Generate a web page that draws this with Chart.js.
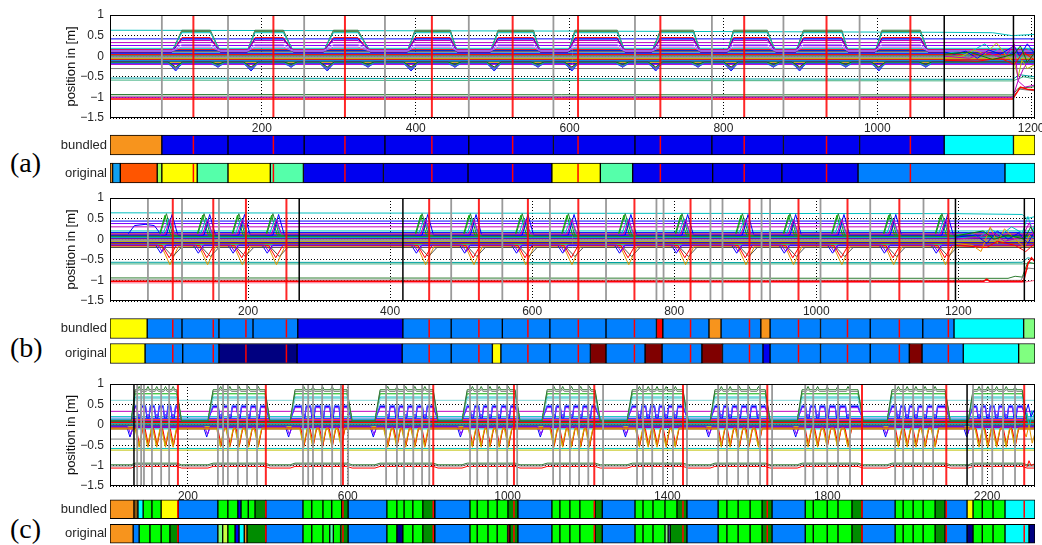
<!DOCTYPE html>
<html>
<head>
<meta charset="utf-8">
<script src="https://cdn.jsdelivr.net/npm/chart.js@4.4.1/dist/chart.umd.min.js"></script>
<style>
  html, body { margin: 0; padding: 0; background: #fff; }
  #fig { position: relative; width: 1042px; height: 545px; overflow: hidden; }
  #fig canvas { position: absolute; left: 0; }
  .tag { position: absolute; left: 10px; font: 28px/28px "Liberation Serif", "Times New Roman", serif; color: #000; }
</style>
</head>
<body>
<div id="fig">
  <div class="tag" style="top:149px">(a)</div>
  <div class="tag" style="top:334px">(b)</div>
  <div class="tag" style="top:515px">(c)</div>
</div>
<script>
// ---- shared ----
const yTicks = [1, 0.5, 0, -0.5, -1, -1.5];
const yTickLabels = ['1', '0.5', '0', '\u22120.5', '\u22121', '\u22121.5'];
const rows = ['bundled', 'original'];

// line colours
const B = '#0000ff', G = '#008000', R = '#ff0000', C = '#00bfbf', M = '#bf00bf', Y = '#bfbf00',
      GR = '#7a7a7a', DG = '#2e7d32', OR = '#e69500', PU = '#8000ff', LG = '#00b000';
// strip colours
const sBlue = '#0000f0', sDodger = '#0080ff', sCyan = '#00ffff', sYellow = '#ffff00', sOrange = '#f7941d',
      sOrangeRed = '#ff5500', sLime = '#a0ff50', sAqua = '#55ffaa', sSky = '#10a0f0', sNavy = '#000080',
      sMaroon = '#800000', sRed = '#ff0000', sGreen = '#00ff00', sDark = '#008c00', sBrown = '#8b5a14',
      sMint = '#80ff80', sPale = '#c8ff40';

// ---- (a) ----
const aRange = [2.6, 1205];
const aXTicks = [200, 400, 600, 800, 1000, 1200];
const aRed = [111, 215, 308, 421, 526, 611, 718, 827, 934, 1043];
const aGray = [70, 156, 255, 360, 469, 579, 685, 785, 878, 977];
const aBlack = [1087, 1177];
const aBundledEdges = [2.6, 70, 156, 255, 360, 469, 579, 685, 785, 878, 977, 1087, 1177, 1205];
const aBundledColors = [sOrange, sBlue, sBlue, sBlue, sBlue, sBlue, sBlue, sBlue, sBlue, sBlue, sBlue, sCyan, sYellow];
const aOriginalEdges = [2.6, 6, 16, 64, 70, 116, 156, 211, 254, 358, 468, 577, 640, 682, 786, 876, 975, 1166, 1205];
const aOriginalColors = [sOrange, sSky, sOrangeRed, sLime, sYellow, sAqua, sYellow, sAqua, sBlue, sBlue, sBlue,
                         sYellow, sAqua, sBlue, sBlue, sBlue, sDodger, sCyan];
const aBumps = [[83, 96, 133, 146], [181, 191, 228, 241], [280, 293, 325, 341], [389, 399, 445, 454],
                [497, 507, 553, 562], [598, 607, 662, 672], [707, 718, 761, 770], [805, 813, 857, 868],
                [894, 904, 954, 962], [997, 1006, 1056, 1066]];
const aRiseDips = [88, 186, 285, 394, 502, 603, 712, 810, 899, 1002];
const aFallDips = [143, 238, 338, 451, 559, 669, 767, 865, 959, 1063];
const aFlat = [[0.42, B], [0.33, M], [0.26, PU], [0.19, C], [0.16, R], [0.14, B], [0.12, G], [0.1, M], [0.08, C],
               [0.06, B], [0.04, R], [0.02, GR], [0, G], [-0.02, B], [-0.04, '#9a9a9a', 3], [-0.06, Y], [-0.08, R],
               [-0.1, C], [-0.12, B], [-0.14, G], [-0.16, OR], [-0.18, B], [-0.2, M], [-0.3, GR]];
const aBumpLines = [[0.1, 0.63, DG], [0.1, 0.6, LG], [0.1, 0.61, GR], [0.12, 0.57, C], [0.1, 0.45, R],
                    [0.1, 0.42, B], [0.15, 0.38, M], [0.13, 0.28, '#b080ff'], [0.12, 0.22, '#c060e0']];
// [base, deep (rise), shallow (fall), colour]
const aDipLines = [[-0.15, -0.36, -0.27, B], [-0.15, -0.32, -0.25, OR], [-0.15, -0.3, -0.23, R],
                   [-0.13, -0.28, -0.22, PU], [-0.16, -0.31, -0.24, C], [-0.14, -0.26, -0.2, G],
                   [-0.18, -0.33, -0.26, '#4040ff']];
const aOther = [
  [C, [[2.6, 0.63], [600, 0.61], [1087, 0.58], [1150, 0.57], [1175, 0.5], [1205, 0.53]]],
  ['#00a0a0', [[2.6, -0.53], [1087, -0.56], [1176, -0.56], [1185, -0.45], [1205, -0.5]]],
  ['#40b080', [[2.6, -0.58], [1176, -0.6], [1190, -0.5], [1205, -0.55]]],
  [DG, [[2.6, -0.93], [1176, -0.94], [1183, -0.78], [1205, -0.74]]],
  [GR, [[2.6, -0.97], [1176, -0.98], [1185, -0.8], [1205, -0.84]]],
  [M, [[2.6, -1.0], [1176, -1.0], [1183, -0.6], [1192, -0.75], [1205, -0.7]]],
  [R, [[2.6, -1.04], [1176, -1.04], [1186, -0.75], [1195, -0.8], [1205, -0.82]], 1.5]
];
const aTail = [
  [C, [[1087, 0.08], [1105, 0.1], [1118, 0.02], [1130, 0.2], [1140, 0.3], [1150, 0.1], [1160, 0.2], [1170, 0.05], [1178, 0.15], [1185, -0.1], [1192, 0.2], [1205, 0.1]]],
  [Y, [[1087, -0.05], [1110, 0], [1125, 0.15], [1140, 0.05], [1155, 0.32], [1168, 0], [1178, -0.15], [1183, -0.5], [1188, -0.1], [1195, -0.3], [1205, -0.2]]],
  [B, [[1087, 0.1], [1100, 0.05], [1115, 0.12], [1130, -0.05], [1145, 0.15], [1160, 0.05], [1178, 0.25], [1185, 0], [1195, 0.3], [1205, 0.05]]],
  [M, [[1087, 0], [1120, -0.05], [1140, 0.1], [1165, -0.05], [1178, 0.3], [1183, -0.6], [1190, -0.3], [1205, 0.1]]],
  [R, [[1087, -0.1], [1130, -0.12], [1160, -0.05], [1178, -0.2], [1190, 0.1], [1205, -0.1]]],
  [G, [[1087, 0.05], [1120, 0.1], [1150, -0.08], [1178, 0.05], [1186, 0.25], [1195, -0.15], [1205, 0.1]]]
];

// ---- (b) ----
const bRange = [5.6, 1308];
const bXTicks = [200, 400, 600, 800, 1000, 1200];
const bRed = [94, 151, 197, 254, 455, 525, 594, 665, 744, 823, 906, 975, 1044, 1117, 1186];
const bGray = [59, 107, 159, 486, 558, 625, 704, 775, 785, 851, 868, 923, 935, 1006, 1076, 1151];
const bBlack = [272, 418, 1196, 1293];
const bBundledEdges = [5.6, 58, 107, 159, 207, 270, 418, 486, 558, 625, 704, 775, 784, 849, 866, 922, 935,
                       1006, 1076, 1150, 1194, 1292, 1308];
const bBundledColors = [sYellow, sDodger, sDodger, sDodger, sDodger, sBlue, sDodger, sDodger, sDodger, sDodger,
                        sDodger, sRed, sDodger, sOrange, sDodger, sOrange, sDodger, sDodger, sDodger, sDodger,
                        sCyan, sMint];
const bOriginalEdges = [5.6, 55, 108, 159, 269, 417, 486, 544, 556, 625, 682, 704, 759, 783, 839, 868, 925, 935,
                        1006, 1076, 1131, 1149, 1207, 1285, 1308];
const bOriginalColors = [sYellow, sDodger, sDodger, sNavy, sBlue, sDodger, sDodger, sYellow, sDodger, sDodger,
                         sMaroon, sDodger, sMaroon, sDodger, sMaroon, sDodger, sBlue, sDodger, sDodger, sDodger,
                         sMaroon, sDodger, sCyan, sMint];
const bSpikes = [85, 138, 187, 235, 445, 513, 586, 651, 731, 811, 896, 963, 1031, 1104, 1177];
// [base, extreme, offset, half width, colour]
const bSpikeLines = [[0.1, 0.62, 0, 9, DG], [0.1, 0.58, -2, 8, LG], [0.12, 0.5, 3, 8, C], [0.1, 0.6, 8, 8, B],
                     [0.12, 0.48, 5, 7, M]];
const bVeeLines = [[-0.17, -0.62, 5, 12, OR], [-0.15, -0.34, -8, 7, B], [-0.2, -0.42, 9, 12, '#505050'],
                   [-0.15, -0.45, 4, 10, R], [-0.14, -0.3, -6, 6, PU]];
const bFlat = [[0.44, B], [0.38, PU], [0.3, M], [0.2, C], [0.16, B], [0.13, R], [0.1, B], [0.08, M], [0.06, G],
               [0.04, C], [0.02, B], [0, R], [-0.02, GR], [-0.04, '#9a9a9a', 3], [-0.06, Y], [-0.08, B],
               [-0.1, R], [-0.12, G], [-0.14, C], [-0.16, M], [-0.2, '#505050']];
const bOther = [
  [C, [[5.6, 0.64], [1196, 0.62], [1290, 0.6], [1297, 0.5], [1308, 0.55]]],
  [B, [[5.6, 0.1], [30, 0.1], [40, 0.33], [55, 0.36], [68, 0.33], [78, 0.1], [1308, 0.1]]],
  ['#00a0a0', [[5.6, -0.56], [1196, -0.57], [1290, -0.56], [1298, -0.45], [1308, -0.5]]],
  ['#40b080', [[5.6, -0.6], [1290, -0.6], [1308, -0.58]]],
  [DG, [[5.6, -0.94], [1270, -0.95], [1280, -0.9], [1290, -0.92], [1298, -0.55], [1308, -0.6]]],
  [GR, [[5.6, -0.99], [1288, -1.0], [1298, -0.7], [1308, -0.72]]],
  ['#ff6080', [[5.6, -1.06], [1290, -1.05], [1308, -1.0]]],
  [R, [[5.6, -1.02], [1236, -1.02], [1240, -0.97], [1244, -1.02], [1292, -1.02], [1298, -0.6], [1303, -0.45], [1308, -0.55]], 1.5]
];
const bTail = [
  [C, [[1196, 0.1], [1215, 0.15], [1230, 0.05], [1245, 0.25], [1260, 0.1], [1275, 0.3], [1290, 0.15], [1298, 0.55], [1305, 0.2], [1308, 0.4]]],
  [OR, [[1196, -0.1], [1220, -0.15], [1232, -0.3], [1245, 0.3], [1255, -0.1], [1265, 0.25], [1280, 0], [1293, -0.2], [1300, 0.1], [1308, -0.1]]],
  [B, [[1196, 0.05], [1225, 0.1], [1240, -0.1], [1255, 0.2], [1270, 0], [1285, 0.15], [1298, -0.1], [1308, 0.2]]],
  [M, [[1196, 0], [1230, 0.05], [1250, 0.15], [1265, -0.05], [1290, 0.05], [1300, 0.4], [1308, 0]]],
  [R, [[1196, -0.15], [1240, -0.2], [1255, -0.05], [1280, -0.15], [1295, -0.3], [1308, -0.1]]],
  [G, [[1196, 0.08], [1235, 0.2], [1250, 0], [1270, 0.1], [1293, 0], [1302, 0.3], [1308, 0.1]]]
];

// ---- (c) ----
const cRange = [5, 2320];
const cXTicks = [200, 600, 1000, 1400, 1800, 2200];
const cRed = [175, 395, 588, 814, 1016, 1217, 1439, 1650, 1887, 2098, 2293];
const cGray = [73, 83, 90, 110, 133, 153, 275, 288, 300, 325, 348, 373, 488, 501, 513, 536, 561, 583, 601, 696,
               723, 741, 764, 786, 804, 906, 924, 951, 974, 999, 1024, 1114, 1131, 1156, 1179, 1202, 1239, 1324,
               1339, 1362, 1389, 1414, 1449, 1527, 1549, 1577, 1602, 1632, 1662, 1745, 1765, 1800, 1827, 1857,
               1970, 1990, 2015, 2040, 2065, 2165, 2188, 2213, 2240, 2270];
const cBlack = [65, 2150];
const cBundledEdges = [5, 65, 75, 88, 110, 133, 176, 275, 300, 325, 333, 351, 368, 395, 488, 510, 538, 560, 585,
                       601, 698, 723, 741, 763, 788, 818, 906, 924, 951, 974, 1001, 1026, 1111, 1131, 1156, 1181,
                       1219, 1237, 1319, 1339, 1364, 1394, 1424, 1449, 1527, 1549, 1577, 1607, 1637, 1662, 1745,
                       1765, 1800, 1827, 1862, 1887, 1970, 1990, 2015, 2040, 2070, 2095, 2150, 2165, 2188, 2215,
                       2245, 2320];
const cBundledColors = [sOrange, sBrown, sCyan, sGreen, sGreen, sYellow, sDodger,
                        sGreen, sGreen, sBlue, sGreen, sGreen, sDark, sDodger,
                        sGreen, sGreen, sGreen, sGreen, sDark, sDodger,
                        sGreen, sGreen, sGreen, sGreen, sDark, sDodger,
                        sGreen, sGreen, sGreen, sGreen, sDark, sDodger,
                        sGreen, sGreen, sGreen, sGreen, sDark, sDodger,
                        sGreen, sGreen, sGreen, sGreen, sDark, sDodger,
                        sGreen, sGreen, sGreen, sGreen, sDark, sDodger,
                        sGreen, sGreen, sGreen, sGreen, sDark, sDodger,
                        sGreen, sGreen, sGreen, sGreen, sDark, sDodger,
                        sYellow, sGreen, sGreen, sGreen, sCyan];
const cOriginalEdges = [5, 63, 78, 105, 133, 155, 176, 275, 287, 300, 318, 328, 341, 348, 395, 488, 510, 538, 555,
                        564, 582, 601, 698, 723, 738, 763, 788, 818, 906, 924, 951, 974, 1000, 1006, 1026, 1111,
                        1131, 1156, 1181, 1219, 1237, 1319, 1339, 1364, 1394, 1402, 1407, 1449, 1527, 1549, 1577,
                        1607, 1637, 1662, 1745, 1765, 1800, 1827, 1862, 1887, 1970, 1990, 2015, 2040, 2070, 2095,
                        2150, 2165, 2188, 2215, 2245, 2305, 2320];
const cOriginalColors = [sOrange, sDodger, sGreen, sGreen, sGreen, sDark, sDodger,
                         sMint, sPale, sGreen, sBlue, sCyan, sOrange, sDark, sDodger,
                         sGreen, sGreen, sGreen, sAqua, sGreen, sDark, sDodger,
                         sGreen, sNavy, sGreen, sGreen, sDark, sDodger,
                         sGreen, sGreen, sGreen, sGreen, sMaroon, sDark, sDodger,
                         sGreen, sGreen, sGreen, sGreen, sDark, sDodger,
                         sGreen, sGreen, sGreen, sMint, sNavy, sDark, sDodger,
                         sGreen, sGreen, sGreen, sGreen, sDark, sDodger,
                         sGreen, sGreen, sGreen, sGreen, sDark, sDodger,
                         sGreen, sGreen, sGreen, sGreen, sDark, sDodger,
                         sNavy, sGreen, sGreen, sGreen, sCyan, sNavy];
const cCycles = [[58, 68, 172, 184], [250, 263, 393, 405], [456, 468, 598, 611], [668, 681, 814, 826],
                 [886, 899, 1019, 1031], [1086, 1099, 1219, 1232], [1299, 1312, 1439, 1452],
                 [1507, 1519, 1645, 1657], [1725, 1737, 1877, 1890], [1950, 1962, 2095, 2108],
                 [2153, 2165, 2288, 2300]];
const cOsc = [[78, 100, 122, 144, 163], [282, 305, 328, 352, 376], [490, 513, 537, 561, 584],
              [700, 723, 745, 768, 793], [912, 934, 956, 979, 1002], [1116, 1138, 1160, 1183, 1205],
              [1330, 1352, 1374, 1397, 1420], [1535, 1557, 1580, 1604, 1628], [1752, 1776, 1800, 1826, 1852],
              [1978, 2000, 2022, 2045, 2070], [2180, 2202, 2224, 2248, 2270]];
const cRiseDips = [55, 247, 452, 664, 882, 1082, 1295, 1503, 1721, 1946, 2149];
const cFlat = [[0.6, '#7fd4d4'], [0.33, M], [0.2, C], [0.16, B], [0.12, R, 1.5], [0.1, M], [0.08, G], [0.06, B],
               [0.05, R, 2], [0.03, C], [0.01, GR], [-0.01, G], [-0.03, B], [-0.05, Y], [-0.07, R], [-0.1, C],
               [-0.35, GR], [-0.58, C], [-0.62, Y]];
// [base, top, colour, jag]
const cPlateauLines = [[0.1, 0.76, LG, 0], [0.12, 0.68, C, 0], [0.15, 0.64, '#7fd4d4', 0],
                       [0.1, 0.82, GR, 0.05], [0.1, 0.86, DG, 0.08]];
const cLowLines = [[-0.98, -0.94, DG, 0], [-1.01, -0.97, GR, 0], [-1.06, -1.02, R, 0]];
// [base, top, low, colour]
const cSquareLines = [[0.1, 0.45, 0.17, B], [0.12, 0.42, 0.22, PU], [0.14, 0.48, 0.25, '#4060ff']];
const cVeeLines = [[-0.08, -0.55, 0, 9, OR], [-0.1, -0.5, 1, 8, R], [-0.1, -0.52, -1, 9, '#c8b400']];
const cDipLines = [[-0.05, -0.3, 0, 8, B], [-0.05, -0.24, 2, 7, PU]];
const cTail = [
  [C, [[2290, 0.1], [2300, 0.3], [2306, -0.1], [2312, 0.35], [2320, 0.1]]],
  [OR, [[2290, -0.1], [2298, -0.3], [2305, 0], [2313, -0.45], [2320, -0.2]]],
  [B, [[2290, 0.1], [2303, 0.5], [2310, 0.2], [2320, 0.4]]],
  [R, [[2300, -1.03], [2305, -0.88], [2310, -1.0], [2320, -0.95]]]
];

// ---- helpers ----
const W = 1060;          // canvases run past the page edge so the last tick label is not squeezed
const PLOT_R = 1035;
const FONT = 'Liberation Sans, Arial, sans-serif';
const INK = '#262626';

const pt = (x, y) => ({ x, y });
const byX = p => p.sort((a, b) => a.x - b.x);
const trace = (data, color, width) => ({
  data, borderColor: color, borderWidth: width || 1, pointRadius: 0, fill: false, tension: 0
});

function flatSet(range, list) {
  return list.map(([v, c, w]) => trace([pt(range[0], v), pt(range[1], v)], c, w));
}
function pathSet(list) {
  return list.map(([c, pts, w]) => trace(pts.map(([x, y]) => pt(x, y)), c, w));
}
function plateauSet(range, cycles, list, osc) {
  return list.map(([base, top, c, jag]) => {
    const p = [pt(range[0], base), pt(range[1], base)];
    cycles.forEach(([r0, r1, f0, f1], i) => {
      p.push(pt(r0, base), pt(r1, top), pt(f0, top), pt(f1, base));
      if (jag && osc) osc[i].forEach(x => p.push(pt(x - 4, top), pt(x, top + jag), pt(x + 4, top)));
    });
    return trace(byX(p), c);
  });
}
function notchSet(range, centers, list) {
  return list.map(([base, ext, off, hw, c]) => {
    const p = [pt(range[0], base), pt(range[1], base)];
    centers.forEach(x => p.push(pt(x + off - hw, base), pt(x + off, ext), pt(x + off + hw, base)));
    return trace(byX(p), c);
  });
}
function dipSet(range, deepAt, shallowAt, list) {
  return list.map(([base, deep, shallow, c]) => {
    const p = [pt(range[0], base), pt(range[1], base)];
    deepAt.forEach(x => p.push(pt(x - 10, base), pt(x, deep), pt(x + 9, base)));
    shallowAt.forEach(x => p.push(pt(x - 9, base), pt(x, shallow), pt(x + 8, base)));
    return trace(byX(p), c);
  });
}
function squareSet(range, cycles, osc, list) {
  return list.map(([base, top, low, c]) => {
    const p = [pt(range[0], base), pt(range[1], base)];
    cycles.forEach(([r0, r1, f0, f1], i) => {
      p.push(pt(r0, base), pt(r1, top), pt(f0, top), pt(f1, base));
      osc[i].forEach(x => p.push(pt(x - 6, top), pt(x - 3, low), pt(x + 3, low), pt(x + 6, top)));
    });
    return trace(byX(p), c);
  });
}

function addCanvas(top, height) {
  const cv = document.createElement('canvas');
  cv.width = W; cv.height = height;
  cv.style.top = top + 'px';
  cv.style.width = W + 'px';
  cv.style.height = height + 'px';
  document.getElementById('fig').appendChild(cv);
  return cv;
}

// vertical event lines over the traces, then the axes box
function eventLines(sets) {
  return {
    id: 'eventLines',
    afterDatasetsDraw(chart) {
      const { ctx, chartArea: a, scales: { x } } = chart;
      ctx.save();
      ctx.beginPath(); ctx.rect(a.left, a.top, a.width, a.height); ctx.clip();
      sets.forEach(([list, color, width]) => {
        ctx.strokeStyle = color; ctx.lineWidth = width;
        list.forEach(v => {
          const px = x.getPixelForValue(v);
          ctx.beginPath(); ctx.moveTo(px, a.top); ctx.lineTo(px, a.bottom); ctx.stroke();
        });
      });
      ctx.restore();
      ctx.save();
      ctx.strokeStyle = '#000'; ctx.lineWidth = 1;
      ctx.strokeRect(Math.round(a.left) + 0.5, Math.round(a.top) + 0.5, Math.round(a.width) - 1, Math.round(a.height) - 1);
      ctx.restore();
    }
  };
}

function stripMarks(red) {
  return {
    id: 'stripMarks',
    afterDatasetsDraw(chart) {
      const { ctx, scales: { x } } = chart;
      ctx.save();
      ctx.strokeStyle = '#ff0000'; ctx.lineWidth = 1.5;
      chart.data.datasets.forEach((d, i) => {
        const el = chart.getDatasetMeta(i).data[0];
        const y0 = el.y - el.height / 2 + 1, y1 = el.y + el.height / 2 - 1;
        red.forEach(v => {
          const px = x.getPixelForValue(v);
          ctx.beginPath(); ctx.moveTo(px, y0); ctx.lineTo(px, y1); ctx.stroke();
        });
      });
      ctx.restore();
    }
  };
}

function drawTraces(plotTop, plotH, axisH, range, xTicks, datasets, sets) {
  const pad = 16;
  const cv = addCanvas(plotTop - pad, pad + plotH + axisH);
  const font = { family: FONT, size: 12 };
  new Chart(cv, {
    type: 'line',
    data: { datasets },
    options: {
      responsive: false, animation: false, devicePixelRatio: 1, events: [],
      layout: { padding: { left: 0, right: W - PLOT_R, top: pad, bottom: 0 } },
      plugins: { legend: { display: false }, tooltip: { enabled: false } },
      scales: {
        x: {
          type: 'linear', min: range[0], max: range[1],
          afterBuildTicks: s => { s.ticks = xTicks.map(v => ({ value: v })); },
          afterFit: s => { s.height = axisH; },
          ticks: { callback: v => String(v), font, color: INK, padding: 3, maxRotation: 0, autoSkip: false },
          grid: { color: '#000', lineWidth: 1, drawTicks: false },
          border: { display: false, dash: [1, 2] }
        },
        y: {
          type: 'linear', min: -1.5, max: 1,
          afterBuildTicks: s => { s.ticks = yTicks.map(v => ({ value: v })); },
          afterFit: s => { s.width = 110; },
          title: { display: true, text: 'position in [m]', font: { family: FONT, size: 13 }, color: '#111',
                   padding: { top: 64, bottom: 0 } },
          ticks: { callback: v => yTickLabels[yTicks.indexOf(v)], font, color: INK, padding: 6, autoSkip: false },
          grid: { color: '#000', lineWidth: 1, drawTicks: false },
          border: { display: false, dash: [1, 2] }
        }
      }
    },
    plugins: [eventLines(sets)]
  });
}

function drawStrips(areaTop, areaH, thick, range, be, bc, oe, oc, red) {
  const pad = 16;
  const cv = addCanvas(areaTop - pad, areaH + 2 * pad);
  const seg = (edges, row) => edges.slice(0, -1).map((e, i) => ({ x: [e, edges[i + 1]], y: row }));
  const bar = (edges, colors, row) => ({
    data: seg(edges, row), backgroundColor: colors, borderColor: '#000', borderWidth: 1,
    borderSkipped: false, barThickness: thick, grouped: false
  });
  new Chart(cv, {
    type: 'bar',
    data: { datasets: [bar(be, bc, rows[0]), bar(oe, oc, rows[1])] },
    options: {
      indexAxis: 'y', responsive: false, animation: false, devicePixelRatio: 1, events: [],
      layout: { padding: { left: 0, right: W - PLOT_R, top: pad, bottom: pad } },
      plugins: { legend: { display: false }, tooltip: { enabled: false } },
      scales: {
        x: { type: 'linear', min: range[0], max: range[1], display: false },
        y: {
          type: 'category', labels: rows,
          afterFit: s => { s.width = 110; },
          grid: { display: false, drawTicks: false },
          border: { display: false },
          ticks: { font: { family: FONT, size: 13 }, color: INK, padding: 3 }
        }
      }
    },
    plugins: [stripMarks(red)]
  });
}

const grayCol = '#9a9a9a', redCol = 'rgba(255,0,0,0.85)';

// (a)
drawTraces(15, 103, 17, aRange, aXTicks, [
  ...flatSet(aRange, aFlat),
  ...pathSet(aOther),
  ...dipSet(aRange, aRiseDips, aFallDips, aDipLines),
  ...plateauSet(aRange, aBumps, aBumpLines),
  ...pathSet(aTail)
].reverse(), [[aGray, grayCol, 1.8], [aBlack, '#000', 1.5], [aRed, redCol, 2]]);
drawStrips(131, 56, 20, aRange, aBundledEdges, aBundledColors, aOriginalEdges, aOriginalColors, aRed);

// (b)
drawTraces(198, 103, 17, bRange, bXTicks, [
  ...flatSet(bRange, bFlat),
  ...pathSet(bOther),
  ...notchSet(bRange, bSpikes, bVeeLines),
  ...notchSet(bRange, bSpikes, bSpikeLines),
  ...pathSet(bTail)
].reverse(), [[bGray, grayCol, 1.8], [bBlack, '#000', 1.5], [bRed, redCol, 2]]);
drawStrips(316, 50, 20, bRange, bBundledEdges, bBundledColors, bOriginalEdges, bOriginalColors, bRed);

// (c)
drawTraces(384, 102, 15, cRange, cXTicks, [
  ...flatSet(cRange, cFlat),
  ...plateauSet(cRange, cCycles, cLowLines),
  ...notchSet(cRange, cRiseDips, cDipLines),
  ...notchSet(cRange, cOsc.flat(), cVeeLines),
  ...squareSet(cRange, cCycles, cOsc, cSquareLines),
  ...plateauSet(cRange, cCycles, cPlateauLines, cOsc),
  ...pathSet(cTail)
].reverse(), [[cGray, grayCol, 1.8], [cBlack, '#000', 1.5], [cRed, redCol, 2]]);
drawStrips(497, 49, 19, cRange, cBundledEdges, cBundledColors, cOriginalEdges, cOriginalColors, cRed);
</script>
</body>
</html>
